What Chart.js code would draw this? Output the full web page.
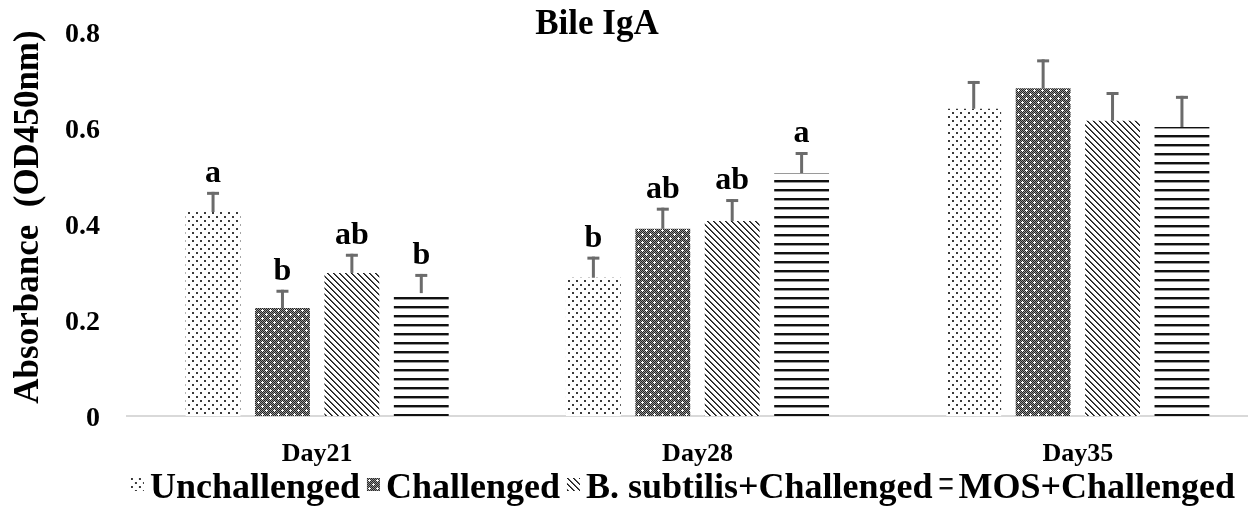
<!DOCTYPE html>
<html>
<head>
<meta charset="utf-8">
<script src="https://cdn.jsdelivr.net/npm/chart.js@4.4.0/dist/chart.umd.min.js"></script>
<style>
  html, body { margin: 0; padding: 0; background: #ffffff; overflow: hidden; width: 1248px; height: 508px; }
  #wrap { width: 1272px; height: 508px; }
</style>
</head>
<body>
<div id="wrap"><canvas id="chart" width="1272" height="508"></canvas></div>
<script>
// Bile IgA absorbance by sampling day and treatment
const categories = ['Day21', 'Day28', 'Day35'];
const seriesNames = ['Unchallenged', 'Challenged', 'B. subtilis+Challenged', 'MOS+Challenged'];

const unchallenged = [0.425, 0.288, 0.640];
const challenged   = [0.225, 0.390, 0.683];
const bSubtilis    = [0.298, 0.406, 0.615];
const mosChallenged = [0.256, 0.506, 0.602];

// standard errors
const unchallengedErr = [0.042, 0.044, 0.058];
const challengedErr   = [0.038, 0.044, 0.060];
const bSubtilisErr    = [0.040, 0.046, 0.060];
const mosChallengedErr = [0.040, 0.044, 0.065];

// significance letters
const unchallengedSig = ['a', 'b', ''];
const challengedSig   = ['b', 'ab', ''];
const bSubtilisSig    = ['ab', 'ab', ''];
const mosChallengedSig = ['b', 'a', ''];

const yTicks = [0, 0.2, 0.4, 0.6, 0.8];
const yTitle = 'Absorbance  (OD450nm)';
const chartTitle = 'Bile IgA';

const SERIF = '"Liberation Serif", "Times New Roman", serif';

// ---- fill patterns ----
function makeTile(w, h, paint) {
  const c = document.createElement('canvas');
  c.width = w; c.height = h;
  const g = c.getContext('2d');
  g.fillStyle = '#ffffff';
  g.fillRect(0, 0, w, h);
  paint(g);
  return document.createElement('canvas').getContext('2d').createPattern(c, 'repeat');
}

const dotPattern = makeTile(8, 8, g => {
  g.fillStyle = '#3a3a3a';
  g.fillRect(0, 0, 2, 2);
  g.fillRect(4, 4, 2, 2);
});

const crossPattern = makeTile(8, 8, g => {
  for (let y = 0; y < 8; y++) {
    for (let x = 0; x < 8; x++) {
      g.fillStyle = (x + y) % 2 === 0 ? '#222222' : '#949494';
      g.fillRect(x, y, 1, 1);
    }
  }
  g.fillStyle = '#ffffff';
  [[2, 2], [6, 6]].forEach(([cx, cy]) => {
    g.fillRect(cx, cy, 1, 1);
    g.fillRect(cx - 1, cy, 1, 1);
    g.fillRect(cx + 1, cy, 1, 1);
    g.fillRect(cx, cy - 1, 1, 1);
    g.fillRect(cx, cy + 1, 1, 1);
  });
});

const diagPattern = makeTile(6, 6, g => {
  for (let y = 0; y < 6; y++) {
    for (let x = 0; x < 6; x++) {
      const d = ((x - y) % 6 + 6) % 6;
      if (d === 0) { g.fillStyle = '#1a1a1a'; g.fillRect(x, y, 1, 1); }
      else if (d === 1) { g.fillStyle = '#555555'; g.fillRect(x, y, 1, 1); }
    }
  }
});

const hLinePattern = makeTile(8, 9, g => {
  g.fillStyle = '#111111';
  g.fillRect(0, 0, 8, 2);
  g.fillStyle = '#9a9a9a';
  g.fillRect(0, 2, 8, 1);
});

const seriesValues = [unchallenged, challenged, bSubtilis, mosChallenged];
const seriesErrors = [unchallengedErr, challengedErr, bSubtilisErr, mosChallengedErr];
const seriesLetters = [unchallengedSig, challengedSig, bSubtilisSig, mosChallengedSig];
const seriesFills = [dotPattern, crossPattern, diagPattern, hLinePattern];

const datasets = seriesNames.map((name, i) => ({
  label: name,
  data: seriesValues[i],
  errors: seriesErrors[i],
  letters: seriesLetters[i],
  backgroundColor: seriesFills[i],
  borderWidth: 0,
  categoryPercentage: 0.73,
  barPercentage: 0.79
}));

// error bars with caps, plus significance letters above them
const errorBarPlugin = {
  id: 'errorBars',
  afterDatasetsDraw(chart) {
    const ctx = chart.ctx;
    const yScale = chart.scales.y;
    ctx.save();
    chart.data.datasets.forEach((ds, di) => {
      const meta = chart.getDatasetMeta(di);
      meta.data.forEach((bar, i) => {
        const v = ds.data[i];
        const top = yScale.getPixelForValue(v + ds.errors[i]);
        ctx.strokeStyle = '#6b6b6b';
        ctx.lineWidth = 3;
        ctx.beginPath();
        ctx.moveTo(bar.x, bar.y);
        ctx.lineTo(bar.x, top);
        ctx.stroke();
        ctx.beginPath();
        ctx.moveTo(bar.x - 6, top + 1.5);
        ctx.lineTo(bar.x + 6, top + 1.5);
        ctx.stroke();
        const letter = ds.letters[i];
        if (letter) {
          ctx.fillStyle = '#000000';
          ctx.font = 'bold 32px ' + SERIF;
          ctx.textAlign = 'center';
          ctx.textBaseline = 'alphabetic';
          ctx.fillText(letter, bar.x, top - 10);
        }
      });
    });
    ctx.restore();
  }
};

// heading, vertical axis caption and the patterned key beneath the axis
const headingAndKeyPlugin = {
  id: 'headingAndKey',
  afterDraw(chart) {
    const ctx = chart.ctx;
    ctx.save();
    ctx.fillStyle = '#000000';
    ctx.font = 'bold 35px ' + SERIF;
    ctx.textAlign = 'center';
    ctx.textBaseline = 'alphabetic';
    ctx.fillText(chartTitle, 597, 34);

    // vertical caption
    ctx.save();
    ctx.translate(29, 217);
    ctx.rotate(-Math.PI / 2);
    ctx.textBaseline = 'middle';
    ctx.font = 'bold 35px ' + SERIF;
    ctx.fillText(yTitle, 0, 0);
    ctx.restore();

    // key
    ctx.font = 'bold 36px ' + SERIF;
    ctx.textAlign = 'left';
    ctx.textBaseline = 'alphabetic';
    const box = 13, gapBox = 6, gapItem = 7;
    const items = chart.data.datasets.map(ds => ({
      label: ds.label, fill: ds.backgroundColor, w: ctx.measureText(ds.label).width
    }));
    const total = items.reduce((s, it) => s + box + gapBox + it.w, 0) + gapItem * (items.length - 1);
    let x = 683 - total / 2;
    const boxTop = 478;
    items.forEach(it => {
      ctx.save();
      ctx.translate(x, boxTop);
      ctx.fillStyle = it.fill;
      ctx.fillRect(0, 0, box, 13);
      ctx.restore();
      x += box + gapBox;
      ctx.fillStyle = '#000000';
      ctx.fillText(it.label, x, 498);
      x += it.w + gapItem;
    });
    ctx.restore();
  }
};

new Chart(document.getElementById('chart'), {
  type: 'bar',
  data: { labels: categories, datasets },
  options: {
    responsive: false,
    animation: false,
    devicePixelRatio: 1,
    layout: { padding: { top: 32, right: 4, left: 0, bottom: 0 } },
    plugins: {
      legend: { display: false },
      title: { display: false },
      tooltip: { enabled: false }
    },
    scales: {
      x: {
        grid: { display: false, drawTicks: false },
        border: { display: true, color: '#d9d9d9', width: 2 },
        ticks: {
          color: '#000000',
          font: { family: SERIF, size: 26, weight: 'bold' },
          padding: 23,
          maxRotation: 0
        },
        afterFit(scale) { scale.height = 92; }
      },
      y: {
        min: 0,
        max: 0.8,
        grid: { display: false, drawTicks: false },
        border: { display: false },
        afterBuildTicks(scale) { scale.ticks = yTicks.map(v => ({ value: v })); },
        ticks: {
          color: '#000000',
          font: { family: SERIF, size: 28, weight: 'bold', lineHeight: 0.2 },
          padding: 27,
          labelOffset: 3,
          callback: v => String(v)
        },
        afterFit(scale) { scale.width = 127; }
      }
    }
  },
  plugins: [errorBarPlugin, headingAndKeyPlugin]
});
</script>
</body>
</html>
